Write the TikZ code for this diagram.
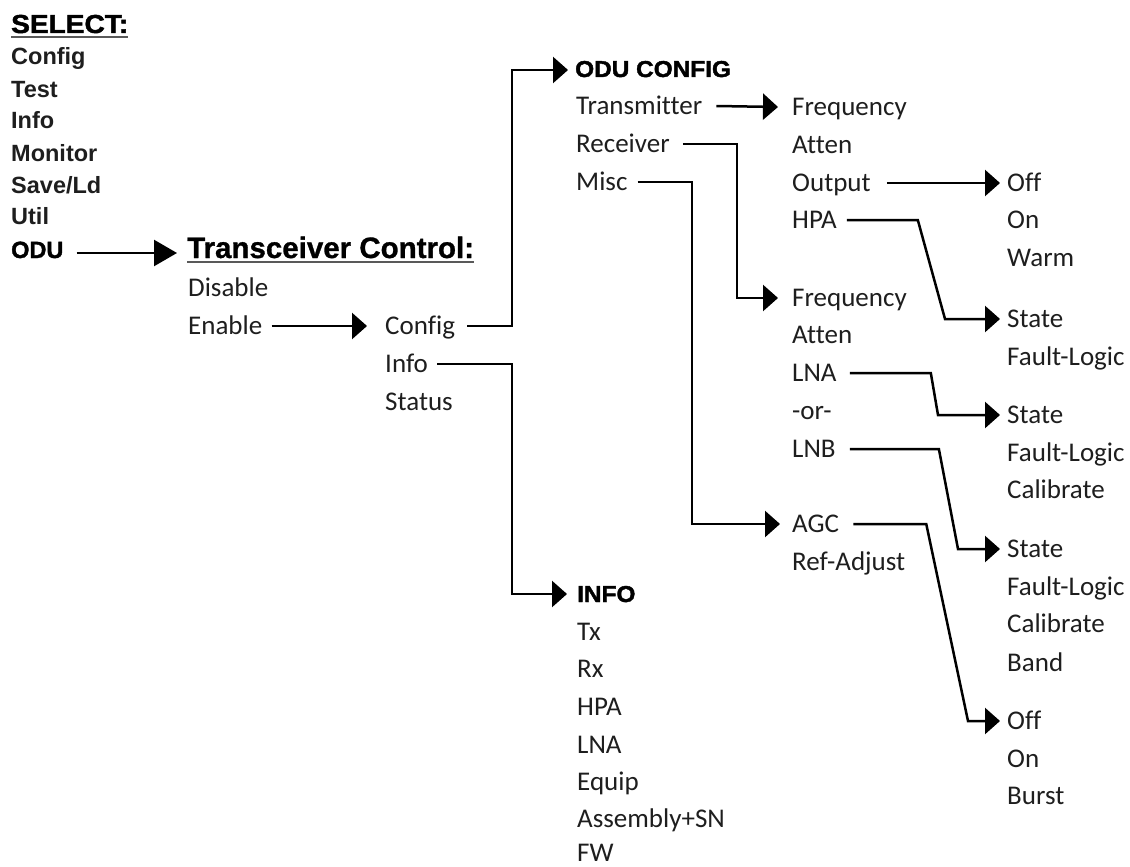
\documentclass[tikz,border=0pt]{standalone}
\usepackage{fontspec}
\setmainfont{Carlito}[Ligatures=NoCommon]
\newfontfamily\arialfont{Liberation Sans}
\font\hvSel="Liberation Sans/B:embolden=1.8;extend=1.08" at 26pt
\font\hvHead="Liberation Sans/B:embolden=1.8;extend=1.06" at 23pt
\font\hvTC="Liberation Sans/B:embolden=1" at 29.5pt
\font\hvOdu="Liberation Sans/B:embolden=1.6" at 23.5pt
\usetikzlibrary{arrows.meta,calc}
\definecolor{txt}{HTML}{1E1E1E}
\tikzset{
  item/.style={anchor=base west, inner sep=0pt, text height=16pt, text depth=0pt,
    text=txt, font=\fontsize{27}{32}\selectfont},
  sel/.style={anchor=base west, inner sep=0pt, text height=20pt, text depth=0pt,
    text=txt, font=\arialfont\bfseries\fontsize{23.5}{28}\selectfont},
  head/.style={anchor=base west, inner sep=0pt, text height=15pt, text depth=0pt, text=black},
  conn/.style={line width=2.5pt, -{Triangle[length=15pt,width=26pt]}},
  bigconn/.style={line width=2.5pt, -{Triangle[length=23pt,width=26pt]}},
  uline/.style={line width=2pt, draw=black!65},
}
\begin{document}
\begin{tikzpicture}[x=1pt,y=-1pt]
\useasboundingbox (0,0) rectangle (1130,867);

% SELECT list
\node[head, text height=19pt] (select) at (11,33) {\hvSel SELECT:};
\draw[uline] ([yshift=-3.5pt]select.south west) -- ([yshift=-3.5pt]select.south east);
\node[sel] (s1) at (11,65) {Config};
\node[sel] (s2) at (11,97) {Test};
\node[sel] (s3) at (11,128) {Info};
\node[sel] (s4) at (11,161) {Monitor};
\node[sel] (s5) at (11,193) {Save/Ld};
\node[sel] (s6) at (11,224) {Util};
\node[head, text height=10pt] (odu) at (11,258) {\hvOdu ODU};

% Transceiver control
\node[head, text height=10pt] (tc) at (187,258) {\hvTC Transceiver Control:};
\draw[uline] ([yshift=-3.5pt]tc.south west) -- ([yshift=-3.5pt]tc.south east);
\node[item] (disable) at (188,296) {Disable};
\node[item] (enable) at (188,334) {Enable};

% Config column
\node[item] (cfg) at (385,334) {Config};
\node[item] (info) at (385,372) {Info};
\node[item] (status) at (385,410) {Status};

% ODU CONFIG
\node[head, text height=14pt] (oduc) at (575,77) {\hvHead ODU CONFIG};
\node[item] (tx) at (576,114) {Transmitter};
\node[item] (rx) at (576,152) {Receiver};
\node[item] (misc) at (576,190) {Misc};

% INFO
\node[head, text height=16pt] (infoh) at (577,602) {\hvHead INFO};
\node[item] (i1) at (577,640) {Tx};
\node[item] (i2) at (577,677) {Rx};
\node[item] (i3) at (577,715) {HPA};
\node[item] (i4) at (577,753) {LNA};
\node[item] (i5) at (577,790) {Equip};
\node[item] (i6) at (577,827) {Assembly+SN};
\node[item] (i7) at (577,861) {FW};

% column 3
\node[item] (f1) at (792,115) {Frequency};
\node[item] (a1) at (792,153) {Atten};
\node[item] (output) at (792,191) {Output};
\node[item] (hpa) at (792,228) {HPA};
\node[item] (f2) at (792,306) {Frequency};
\node[item] (a2) at (792,343) {Atten};
\node[item] (lna) at (792,381) {LNA};
\node[item] (or) at (792,419) {-or-};
\node[item] (lnb) at (792,457) {LNB};
\node[item] (agc) at (792,532) {AGC};
\node[item] (ref) at (792,570) {Ref-Adjust};

% column 4
\node[item] (off1) at (1007,191) {Off};
\node[item] (on1) at (1007,228) {On};
\node[item] (warm) at (1007,266) {Warm};
\node[item] (st1) at (1007,327) {State};
\node[item] (fl1) at (1007,365) {Fault-Logic};
\node[item] (st2) at (1007,423) {State};
\node[item] (fl2) at (1007,461) {Fault-Logic};
\node[item] (cal2) at (1007,498) {Calibrate};
\node[item] (st3) at (1007,557) {State};
\node[item] (fl3) at (1007,595) {Fault-Logic};
\node[item] (cal3) at (1007,632) {Calibrate};
\node[item] (band) at (1007,671) {Band};
\node[item] (off2) at (1007,729) {Off};
\node[item] (on2) at (1007,767) {On};
\node[item] (burst) at (1007,804) {Burst};

% connectors
\draw[bigconn] ([xshift=13pt]odu.east) -- ([xshift=-10pt]tc.west);
\draw[conn] ([xshift=9pt]enable.east) -- ([xshift=-18pt]cfg.west);
\draw[conn] ([xshift=12pt]cfg.east) -| ($(oduc.west)+(-63,0)$) -- ([xshift=-7pt]oduc.west);
\draw[conn] ([xshift=9pt]info.east) -| ($(infoh.west)+(-65,0)$) -- ([xshift=-10pt]infoh.west);
\draw[conn] ([xshift=14pt]tx.east) -- ([xshift=-14pt]f1.west);
\draw[conn] ([xshift=13pt]rx.east) -| ($(f2.west)+(-55,0)$) -- ([xshift=-14pt]f2.west);
\draw[conn] ([xshift=10pt]misc.east) -| ($(agc.west)+(-100,0)$) -- ([xshift=-12pt]agc.west);
\draw[conn] ([xshift=16pt]output.east) -- ([xshift=-7pt]off1.west);
\draw[conn] ([xshift=10pt]hpa.east) -- ($(hpa.east)+(81,0)$) -- ($(st1.west)+(-62,0)$) -- ([xshift=-7pt]st1.west);
\draw[conn] ([xshift=13pt]lna.east) -- ($(lna.east)+(94,0)$) -- ($(st2.west)+(-69,0)$) -- ([xshift=-7pt]st2.west);
\draw[conn] ([xshift=14pt]lnb.east) -- ($(lnb.east)+(103,0)$) -- ($(st3.west)+(-49,0)$) -- ([xshift=-7pt]st3.west);
\draw[conn] ([xshift=14pt]agc.east) -- ($(agc.east)+(87,0)$) -- ($(off2.west)+(-39,0)$) -- ([xshift=-7pt]off2.west);
\end{tikzpicture}
\end{document}
